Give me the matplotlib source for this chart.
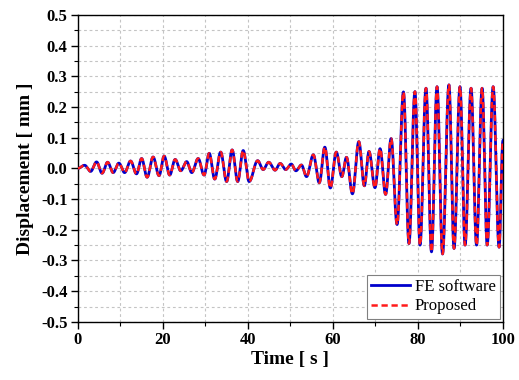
import numpy as np
import matplotlib
matplotlib.use("Agg")
import matplotlib.pyplot as plt
from matplotlib.ticker import MultipleLocator

# Extrema (time [s], displacement [mm])
t_ext = [0, 1.6, 3.0, 4.4, 5.7, 7.0, 8.3, 9.65, 11.0, 12.4, 13.8, 15.0, 16.3, 17.7,
         19.1, 20.3, 21.6, 22.9, 24.2, 25.6, 26.8, 28.3, 29.7, 30.9, 32.2, 33.6,
         35.0, 36.3, 37.6, 38.9, 40.3, 42.3, 43.6, 44.9, 46.4, 47.6, 48.9, 50.2,
         51.3, 52.6, 53.8, 55.4, 56.8, 58.1, 59.4, 60.8, 62.1, 63.2, 64.6, 66.1,
         67.4, 68.5, 69.9, 71.1, 72.4, 73.7, 75.1, 76.6, 77.9, 79.3, 80.5, 81.9,
         83.2, 84.5, 85.8, 87.3, 88.5, 89.9, 91.1, 92.5, 93.8, 95.1, 96.3, 97.7,
         99.1, 100]
v_fe = [0, 0.010, -0.010, 0.021, -0.016, 0.020, -0.014, 0.017, -0.014, 0.024,
        -0.018, 0.032, -0.029, 0.037, -0.024, 0.040, -0.022, 0.029, -0.008, 0.022,
        -0.014, 0.032, -0.022, 0.049, -0.035, 0.053, -0.043, 0.060, -0.043, 0.058,
        -0.043, 0.025, -0.004, 0.020, -0.006, 0.016, -0.004, 0.014, -0.008, 0.011,
        -0.027, 0.044, -0.047, 0.069, -0.064, 0.053, -0.027, 0.036, -0.083, 0.087,
        -0.057, 0.055, -0.063, 0.064, -0.085, 0.097, -0.183, 0.249, -0.245, 0.250,
        -0.250, 0.261, -0.272, 0.266, -0.279, 0.272, -0.261, 0.266, -0.250, 0.261,
        -0.250, 0.261, -0.250, 0.266, -0.257, 0.09]
v_prop = list(v_fe)

x_ticks = [0, 20, 40, 60, 80, 100]
y_ticks = [-0.5, -0.4, -0.3, -0.2, -0.1, 0.0, 0.1, 0.2, 0.3, 0.4, 0.5]


def smooth(tk, vk, n=40):
    tt, vv = [], []
    for i in range(len(tk) - 1):
        s = np.linspace(0, 1, n, endpoint=False)
        w = (1 - np.cos(np.pi * s)) / 2
        tt.append(tk[i] + (tk[i + 1] - tk[i]) * s)
        vv.append(vk[i] + (vk[i + 1] - vk[i]) * w)
    tt.append([tk[-1]])
    vv.append([vk[-1]])
    return np.concatenate(tt), np.concatenate(vv)


plt.rcParams['font.family'] = ['Liberation Serif', 'DejaVu Serif']

fig = plt.figure(figsize=(5.19, 3.80), dpi=100)
ax = fig.add_axes([0.150, 0.153, 0.819, 0.808])

t1, y1 = smooth(t_ext, v_fe)
t2, y2 = smooth(t_ext, v_prop)
ax.plot(t1, y1, color='#0000cc', lw=2.0, label='FE software', zorder=3)
ax.plot(t2, y2, color='#ff1a1a', lw=1.8, ls=(0, (2.5, 1.5)), label='Proposed', zorder=4)

ax.set_xlim(0, 100)
ax.set_ylim(-0.5, 0.5)
ax.set_xticks(x_ticks)
ax.set_yticks(y_ticks)
ax.set_xticklabels([str(v) for v in x_ticks])
ax.set_yticklabels([f"{v:.1f}" for v in y_ticks])
ax.xaxis.set_minor_locator(MultipleLocator(10))
ax.yaxis.set_minor_locator(MultipleLocator(0.05))
ax.grid(True, which='both', color='#c4c4c4', ls=(0, (2.5, 2.5)), lw=0.8, zorder=0)
ax.set_axisbelow(True)

ax.tick_params(which='major', direction='out', length=5, width=1.0, labelsize=12,
               pad=2.5, top=False, right=False)
ax.tick_params(which='minor', direction='out', length=3, width=0.8, top=False, right=False)
for lab in ax.get_xticklabels() + ax.get_yticklabels():
    lab.set_fontweight('bold')
for sp in ax.spines.values():
    sp.set_linewidth(1.0)

ax.set_xlabel('Time [ s ]', fontsize=14, fontweight='bold', labelpad=2)
ax.set_ylabel('Displacement [ mm ]', fontsize=14, fontweight='bold', labelpad=5)

leg = ax.legend(loc='lower right', fontsize=12, frameon=True, fancybox=False,
                edgecolor='#808080', framealpha=1, handlelength=2.3,
                borderaxespad=0.2, labelspacing=0.2, borderpad=0.25, handletextpad=0.3)
leg.get_frame().set_linewidth(0.8)

fig.savefig('out.png', dpi=100)
